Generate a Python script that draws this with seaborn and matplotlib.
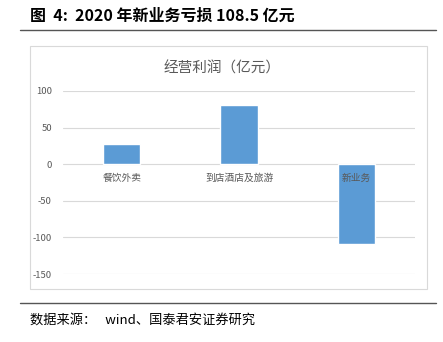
import matplotlib
matplotlib.use("Agg")
import matplotlib.pyplot as plt
from matplotlib.patches import Rectangle
from matplotlib.lines import Line2D
import seaborn as sns
import pandas as pd

categories = ["餐饮外卖", "到店酒店及旅游", "新业务"]
profits = [28.2, 81.1, -108.5]
y_ticks = [-150, -100, -50, 0, 50, 100]

sns.set_theme(style="white")
plt.rcParams["font.family"] = ["Noto Sans CJK SC", "DejaVu Sans"]

W, H = 443, 342
fig = plt.figure(figsize=(W / 100, H / 100), dpi=100)

def fx(px):
    return px / W

def fy(py):
    return 1 - py / H

# page title and rules
fig.text(fx(30), fy(16), "图  4:  2020 年新业务亏损 108.5 亿元", fontsize=11.5,
         fontweight="bold", color="black", va="center", ha="left")
fig.add_artist(Line2D([fx(20), fx(436)], [fy(30), fy(30)], color="#555555", lw=1.0))
fig.add_artist(Line2D([fx(20), fx(436)], [fy(303), fy(303)], color="#555555", lw=1.0))
fig.text(fx(30), fy(320), "数据来源：   wind、国泰君安证券研究", fontsize=9.5,
         color="black", va="center", ha="left")

# chart frame
fig.add_artist(Rectangle((fx(30), fy(289)), fx(427) - fx(30), fy(46) - fy(289),
                         transform=fig.transFigure, fill=False,
                         edgecolor="#d9d9d9", lw=0.8))
fig.text(fx(222), fy(68), "经营利润（亿元）", fontsize=10.5, color="#595959",
         ha="center", va="center")

ax = fig.add_axes([fx(63), fy(274), fx(415) - fx(63), fy(91) - fy(274)])
df = pd.DataFrame({"category": categories, "profit": profits})
sns.barplot(data=df, x="category", y="profit", color="#5b9bd5", width=0.32,
            saturation=1, ax=ax, zorder=3)

ax.set_ylim(-150, 100)
ax.set_xlim(-0.5, 2.5)
ax.set_yticks(y_ticks)
ax.set_yticklabels([str(v) for v in y_ticks], fontsize=6.8, color="#595959")
ax.yaxis.grid(True, color="#d9d9d9", lw=0.8, zorder=0)
ax.set_axisbelow(True)
ax.tick_params(axis="y", length=0, pad=8)
ax.tick_params(axis="x", length=0, pad=6, labelsize=7, labelcolor="#595959")
for s in ax.spines.values():
    s.set_visible(False)
ax.spines["bottom"].set_position(("data", 0))
ax.xaxis.set_zorder(10)
ax.set_xlabel("")
ax.set_ylabel("")
ax.patch.set_alpha(0)

fig.savefig("out.png", dpi=100)
